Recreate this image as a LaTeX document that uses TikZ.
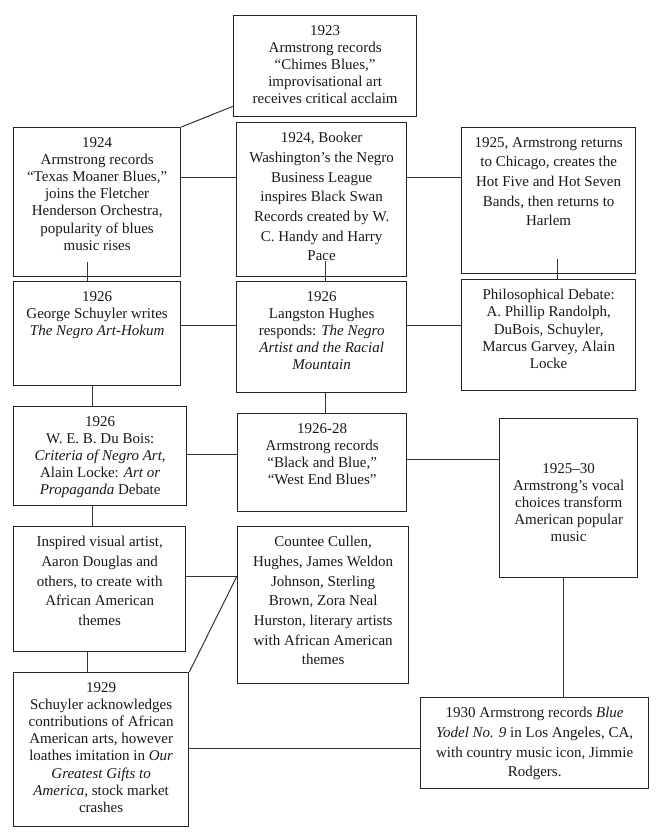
\documentclass[tikz,border=0pt]{standalone}
\usepackage{fontspec}
\setmainfont{Liberation Serif}
\usetikzlibrary{positioning,calc}

\tikzset{
  box/.style={draw=black!85, line width=1.3bp, inner sep=0pt, anchor=north west},
  txt/.style={align=center, inner sep=0pt, anchor=north, text=black!90,
    font=\fontsize{15bp}{17.2bp}\selectfont},
  txtwide/.style={txt, font=\fontsize{15bp}{19.7bp}\selectfont},
  link/.style={draw=black!80, line width=1bp}
}

\begin{document}
\begin{tikzpicture}[x=1bp, y=-1bp]
  \useasboundingbox (0,0) rectangle (656,834);

  % Define the boxes
  \node[box, minimum width=183bp, minimum height=101bp] (y1923) at (233,15) {};
  \node[box, minimum width=167bp, minimum height=149bp] (y1924) at (13,127) {};
  \node[box, minimum width=170bp, minimum height=154bp] (booker) at (236,122) {};
  \node[box, minimum width=174bp, minimum height=146bp] (y1925) at (461,127) {};
  \node[box, minimum width=167bp, minimum height=104bp] (schuyler) at (13,281) {};
  \node[box, minimum width=170bp, minimum height=111bp] (hughes) at (236,281) {};
  \node[box, minimum width=174bp, minimum height=111bp] (debate) at (461,279) {};
  \node[box, minimum width=173bp, minimum height=99bp] (dubois) at (13,406) {};
  \node[box, minimum width=169bp, minimum height=98bp] (records) at (237,413) {};
  \node[box, minimum width=138bp, minimum height=159bp] (vocal) at (499,418) {};
  \node[box, minimum width=172bp, minimum height=125bp] (douglas) at (13,526) {};
  \node[box, minimum width=171bp, minimum height=157bp] (cullen) at (237,526) {};
  \node[box, minimum width=175bp, minimum height=154bp] (y1929) at (13,672) {};
  \node[box, minimum width=228bp, minimum height=91bp] (yodel) at (420,697) {};

  % Texts of the boxes
  \node[txt, below=10bp of y1923.north] (y1923t)
    {1923\\Armstrong records\\“Chimes Blues,”\\improvisational art\\receives critical acclaim};
  \node[txt, below=10bp of y1924.north] (y1924t)
    {1924\\Armstrong records\\“Texas Moaner Blues,”\\joins the Fletcher\\Henderson Orchestra,\\popularity of blues\\music rises};
  \node[txtwide, below=10bp of booker.north] (bookert)
    {1924, Booker\\Washington’s the Negro\\Business League\\inspires Black Swan\\Records created by W.\\C. Handy and Harry\\Pace};
  \node[txtwide, below=10bp of y1925.north] (y1925t)
    {1925, Armstrong returns\\to Chicago, creates the\\Hot Five and Hot Seven\\Bands, then returns to\\Harlem};
  \node[txt, below=10bp of schuyler.north] (schuylert)
    {1926\\George Schuyler writes\\\textit{The Negro Art-Hokum}};
  \node[txt, below=10bp of hughes.north] (hughest)
    {1926\\Langston Hughes\\responds: \textit{The Negro}\\\textit{Artist and the Racial}\\\textit{Mountain}};
  \node[txt, below=10bp of debate.north] (debatet)
    {Philosophical Debate:\\A. Phillip Randolph,\\DuBois, Schuyler,\\Marcus Garvey, Alain\\Locke};
  \node[txt, below=10bp of dubois.north] (duboist)
    {1926\\W. E. B. Du Bois:\\\textit{Criteria of Negro Art},\\Alain Locke: \textit{Art or}\\\textit{Propaganda} Debate};
  \node[txt, below=10bp of records.north] (recordst)
    {1926-28\\Armstrong records\\“Black and Blue,”\\“West End Blues”};
  \node[txt, below=45bp of vocal.north] (vocalt)
    {1925–30\\Armstrong’s vocal\\choices transform\\American popular\\music};
  \node[txtwide, below=10bp of douglas.north] (douglast)
    {Inspired visual artist,\\Aaron Douglas and\\others, to create with\\African American\\themes};
  \node[txtwide, below=10bp of cullen.north] (cullent)
    {Countee Cullen,\\Hughes, James Weldon\\Johnson, Sterling\\Brown, Zora Neal\\Hurston, literary artists\\with African American\\themes};
  \node[txt, below=10bp of y1929.north] (y1929t)
    {1929\\Schuyler acknowledges\\contributions of African\\American arts, however\\loathes imitation in \textit{Our}\\\textit{Greatest Gifts to}\\\textit{America}, stock market\\crashes};
  \node[txtwide, below=10bp of yodel.north] (yodelt)
    {1930 Armstrong records \textit{Blue}\\\textit{Yodel No. 9} in Los Angeles, CA,\\with country music icon, Jimmie\\Rodgers.};

  % Rows and columns of the connectors
  \coordinate (r1) at (0,177);
  \coordinate (r2) at (0,325);
  \coordinate (r3) at (0,454);
  \coordinate (r4) at (0,459);
  \coordinate (r5) at (0,576);
  \coordinate (r6) at (0,748);
  \coordinate (c1) at (87,0);
  \coordinate (c2) at (325,0);
  \coordinate (c3) at (557,0);
  \coordinate (c4) at (92,0);
  \coordinate (c5) at (563,0);

  % Draw the connectors
  \draw[link] (y1924.north east) -- ($(y1923.south west)+(0,-11)$);
  \draw[link] (y1924.east |- r1) -- (booker.west |- r1);
  \draw[link] (booker.east |- r1) -- (y1925.west |- r1);
  \draw[link] ($(y1924.south -| c1)+(0,-15)$) -- (schuyler.north -| c1);
  \draw[link] ($(booker.south -| c2)+(0,-16)$) -- (hughes.north -| c2);
  \draw[link] ($(y1925.south -| c3)+(0,-15)$) -- (debate.north -| c3);
  \draw[link] (schuyler.east |- r2) -- (hughes.west |- r2);
  \draw[link] (hughes.east |- r2) -- (debate.west |- r2);
  \draw[link] (schuyler.south -| c4) -- (dubois.north -| c4);
  \draw[link] (hughes.south -| c2) -- (records.north -| c2);
  \draw[link] (dubois.east |- r3) -- (records.west |- r3);
  \draw[link] (records.east |- r4) -- (vocal.west |- r4);
  \draw[link] (dubois.south -| c4) -- (douglas.north -| c4);
  \draw[link] (douglas.east |- r5) -- (cullen.west |- r5);
  \draw[link] (douglas.south -| c1) -- (y1929.north -| c1);
  \draw[link] (y1929.north east) -- (cullen.west |- r5);
  \draw[link] (vocal.south -| c5) -- (yodel.north -| c5);
  \draw[link] (y1929.east |- r6) -- (yodel.west |- r6);
\end{tikzpicture}
\end{document}
